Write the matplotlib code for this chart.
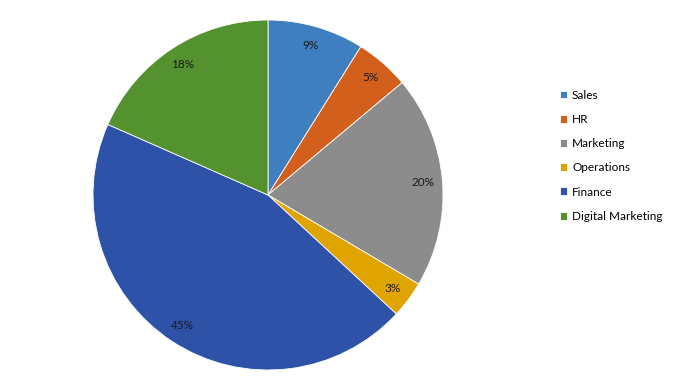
import matplotlib
matplotlib.use('Agg')
import matplotlib.pyplot as plt

# du lieu doc tu hinh
departments = ['Sales', 'HR', 'Marketing', 'Operations', 'Finance', 'Digital Marketing']
shares = [8.9, 5.0, 19.6, 3.4, 44.7, 18.4]
colors = ['#3f7fbf', '#d35f1d', '#8c8c8c', '#e0a400', '#2d52a8', '#54922f']

plt.rcParams['font.family'] = ['Lato', 'DejaVu Sans']

fig = plt.figure(figsize=(6.99, 3.77), dpi=100)
ax = fig.add_axes([93 / 699, 7 / 377, 350 / 699, 350 / 377])

wedges, texts, autotexts = ax.pie(
    shares, colors=colors, startangle=90, counterclock=False,
    autopct='%.0f%%', pctdistance=0.89,
    wedgeprops=dict(edgecolor='white', linewidth=0.6),
    textprops=dict(fontsize=8.5, color='#1a1a1a'))
ax.set_xlim(-1, 1)
ax.set_ylim(-1, 1)
ax.set_aspect('equal')

fig.legend(wedges, departments, loc='upper left',
           bbox_to_anchor=(549 / 699, 1 - 79 / 377),
           frameon=False, fontsize=8.5, handlelength=0.65, handleheight=0.65,
           handletextpad=0.4, labelspacing=1.12)

fig.savefig('out.png', dpi=100)
